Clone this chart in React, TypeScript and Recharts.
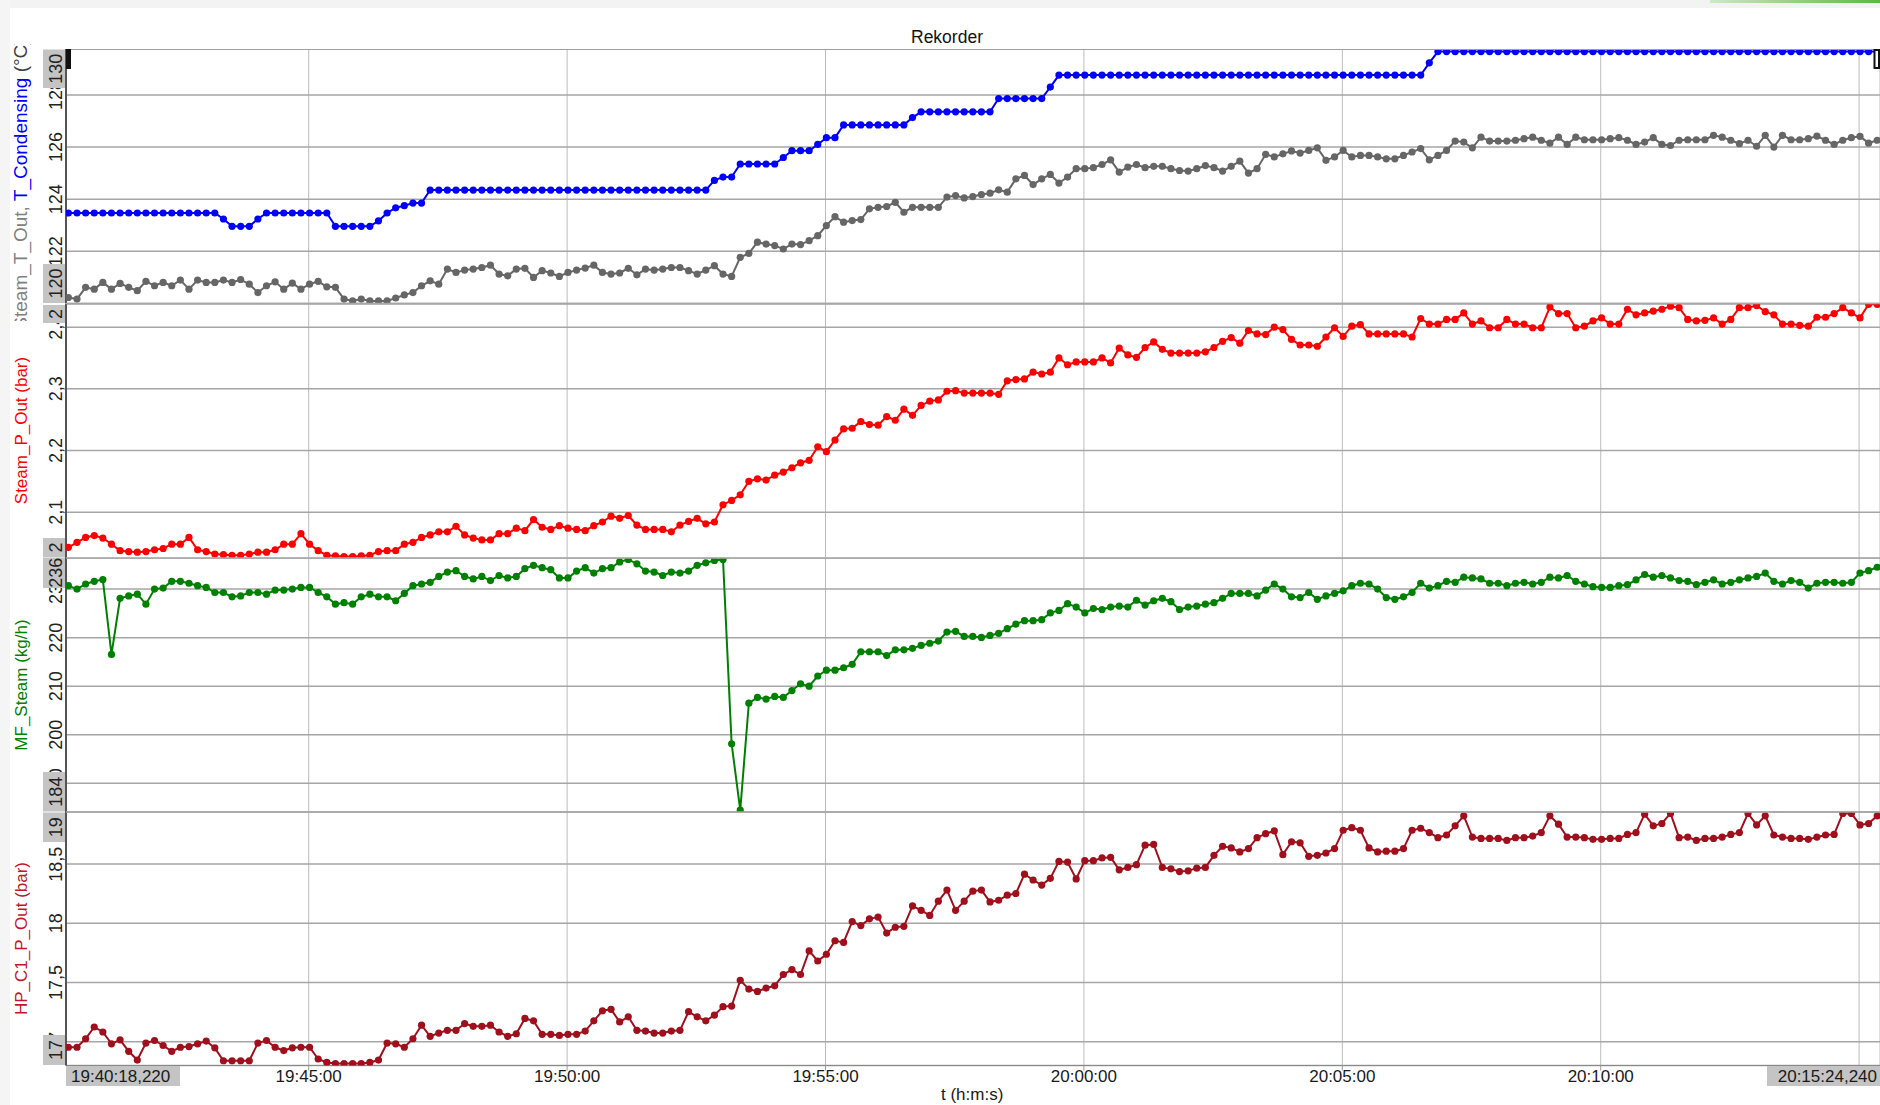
import React from 'react';
import { LineChart, Line, XAxis, YAxis, CartesianGrid } from 'recharts';

// recorder window: 19:40:18,220 .. 20:15:24,240, one sample every 10 s
const START = '19:40:18.220';
const END = '20:15:24.240';
const FIRST_SAMPLE = '19:40:21';
const SAMPLE_STEP_S = 10;
const TIME_TICKS = ['19:45:00', '19:50:00', '19:55:00', '20:00:00', '20:05:00', '20:10:00', '20:15:00'];

// T_Condensing (°C)
const T_CONDENSING = [
  123.47, 123.47, 123.47, 123.47, 123.47, 123.47, 123.47, 123.47, 123.47, 123.47,
  123.47, 123.47, 123.47, 123.47, 123.47, 123.47, 123.47, 123.47, 123.24, 122.96,
  122.96, 122.96, 123.24, 123.47, 123.47, 123.47, 123.47, 123.47, 123.47, 123.47,
  123.47, 122.96, 122.96, 122.96, 122.96, 122.96, 123.17, 123.47, 123.67, 123.75,
  123.85, 123.85, 124.35, 124.35, 124.35, 124.35, 124.35, 124.35, 124.35, 124.35,
  124.35, 124.35, 124.35, 124.35, 124.35, 124.35, 124.35, 124.35, 124.35, 124.35,
  124.35, 124.35, 124.35, 124.35, 124.35, 124.35, 124.35, 124.35, 124.35, 124.35,
  124.35, 124.35, 124.35, 124.35, 124.35, 124.72, 124.85, 124.85, 125.35, 125.35,
  125.35, 125.35, 125.35, 125.6, 125.86, 125.86, 125.86, 126.1, 126.36, 126.36,
  126.85, 126.85, 126.85, 126.85, 126.85, 126.85, 126.85, 126.85, 127.13, 127.35,
  127.35, 127.35, 127.35, 127.35, 127.35, 127.35, 127.35, 127.35, 127.86, 127.86,
  127.86, 127.86, 127.86, 127.86, 128.3, 128.76, 128.76, 128.76, 128.76, 128.76,
  128.76, 128.76, 128.76, 128.76, 128.76, 128.76, 128.76, 128.76, 128.76, 128.76,
  128.76, 128.76, 128.76, 128.76, 128.76, 128.76, 128.76, 128.76, 128.76, 128.76,
  128.76, 128.76, 128.76, 128.76, 128.76, 128.76, 128.76, 128.76, 128.76, 128.76,
  128.76, 128.76, 128.76, 128.76, 128.76, 128.76, 128.76, 128.76, 129.23, 129.66,
  129.66, 129.66, 129.66, 129.66, 129.66, 129.66, 129.66, 129.66, 129.66, 129.66,
  129.66, 129.66, 129.66, 129.66, 129.66, 129.66, 129.66, 129.66, 129.66, 129.66,
  129.66, 129.66, 129.66, 129.66, 129.66, 129.66, 129.66, 129.66, 129.66, 129.66,
  129.66, 129.66, 129.66, 129.66, 129.66, 129.66, 129.66, 129.66, 129.66, 129.66,
  129.66, 129.66, 129.66, 129.66, 129.66, 129.66, 129.66, 129.66, 129.66, 129.66,
  129.66,
];

// Steam_T_Out (°C)
const STEAM_T_OUT = [
  120.23, 120.17, 120.62, 120.55, 120.81, 120.55, 120.77, 120.62, 120.49, 120.85,
  120.68, 120.81, 120.68, 120.9, 120.55, 120.9, 120.81, 120.81, 120.9, 120.81,
  120.92, 120.74, 120.42, 120.68, 120.83, 120.55, 120.78, 120.55, 120.74, 120.85,
  120.64, 120.62, 120.17, 120.1, 120.17, 120.1, 120.1, 120.1, 120.21, 120.33,
  120.42, 120.68, 120.87, 120.74, 121.32, 121.19, 121.28, 121.32, 121.38, 121.47,
  121.13, 121.06, 121.32, 121.35, 121.0, 121.26, 121.17, 121.04, 121.19, 121.28,
  121.36, 121.47, 121.19, 121.13, 121.17, 121.35, 121.1, 121.32, 121.28, 121.32,
  121.38, 121.38, 121.26, 121.13, 121.28, 121.45, 121.13, 121.04, 121.77, 121.92,
  122.35, 122.28, 122.22, 122.09, 122.28, 122.26, 122.41, 122.6, 122.99, 123.33,
  123.12, 123.18, 123.22, 123.63, 123.69, 123.72, 123.88, 123.5, 123.69, 123.69,
  123.69, 123.69, 124.08, 124.14, 124.05, 124.1, 124.18, 124.23, 124.36, 124.27,
  124.78, 124.91, 124.56, 124.78, 124.95, 124.62, 124.85, 125.17, 125.17, 125.21,
  125.33, 125.51, 125.04, 125.23, 125.33, 125.21, 125.26, 125.26, 125.17, 125.1,
  125.08, 125.17, 125.29, 125.21, 125.08, 125.26, 125.46, 125.0, 125.17, 125.72,
  125.62, 125.74, 125.85, 125.77, 125.87, 125.97, 125.49, 125.62, 125.87, 125.62,
  125.68, 125.68, 125.62, 125.55, 125.55, 125.68, 125.81, 125.94, 125.51, 125.68,
  125.87, 126.23, 126.19, 125.97, 126.38, 126.23, 126.23, 126.23, 126.26, 126.32,
  126.38, 126.26, 126.15, 126.38, 126.1, 126.38, 126.28, 126.28, 126.28, 126.32,
  126.36, 126.26, 126.1, 126.19, 126.36, 126.1, 126.06, 126.26, 126.28, 126.28,
  126.28, 126.45, 126.38, 126.26, 126.13, 126.26, 126.03, 126.45, 126.0, 126.45,
  126.28, 126.28, 126.32, 126.42, 126.26, 126.1, 126.26, 126.36, 126.41, 126.15,
  126.26,
];

// Steam_P_Out (bar)
const STEAM_P_OUT = [
  2.043, 2.051, 2.059, 2.062, 2.058, 2.048, 2.0375, 2.036, 2.035, 2.036,
  2.039, 2.041, 2.048, 2.048, 2.059, 2.039, 2.036, 2.032, 2.031, 2.03,
  2.03, 2.032, 2.035, 2.035, 2.039, 2.048, 2.048, 2.065, 2.048, 2.0375,
  2.03, 2.029, 2.028, 2.028, 2.029, 2.03, 2.036, 2.0375, 2.0375, 2.048,
  2.051, 2.059, 2.063, 2.068, 2.068, 2.077, 2.063, 2.058, 2.055, 2.055,
  2.065, 2.065, 2.074, 2.07, 2.088, 2.0755, 2.072, 2.078, 2.074, 2.072,
  2.07, 2.078, 2.084, 2.0935, 2.09, 2.0945, 2.079, 2.072, 2.072, 2.072,
  2.068, 2.079, 2.085, 2.09, 2.081, 2.084, 2.112, 2.119, 2.128, 2.15,
  2.154, 2.152, 2.16, 2.165, 2.172, 2.18, 2.184, 2.206, 2.198, 2.217,
  2.235, 2.236, 2.247, 2.242, 2.241, 2.255, 2.249, 2.267, 2.257, 2.273,
  2.28, 2.282, 2.296, 2.297, 2.293, 2.293, 2.293, 2.293, 2.291, 2.313,
  2.315, 2.316, 2.327, 2.324, 2.327, 2.35, 2.339, 2.3435, 2.3435, 2.3435,
  2.35, 2.342, 2.366, 2.355, 2.351, 2.367, 2.376, 2.364, 2.358, 2.358,
  2.358, 2.358, 2.36, 2.367, 2.377, 2.383, 2.374, 2.3945, 2.389, 2.388,
  2.4, 2.396, 2.38, 2.371, 2.371, 2.369, 2.384, 2.399, 2.385, 2.4015,
  2.404, 2.389, 2.389, 2.389, 2.389, 2.389, 2.384, 2.414, 2.405, 2.405,
  2.4125, 2.4125, 2.423, 2.405, 2.41, 2.399, 2.399, 2.4125, 2.405, 2.405,
  2.399, 2.399, 2.4325, 2.422, 2.422, 2.399, 2.4015, 2.41, 2.415, 2.405,
  2.405, 2.429, 2.42, 2.423, 2.426, 2.429, 2.434, 2.4315, 2.4125, 2.41,
  2.411, 2.415, 2.405, 2.4125, 2.4315, 2.4315, 2.435, 2.425, 2.42, 2.405,
  2.405, 2.403, 2.4015, 2.416, 2.416, 2.422, 2.4315, 2.423, 2.415, 2.437,
  2.437,
];

// MF_Steam (kg/h)
const MF_STEAM = [
  230.7, 230.0, 231.05, 231.6, 231.95, 216.55, 228.1, 228.6, 228.95, 226.9,
  230.0, 230.2, 231.6, 231.6, 231.2, 230.7, 230.35, 229.3, 229.3, 228.4,
  228.6, 229.3, 229.3, 228.95, 229.8, 229.8, 230.0, 230.35, 230.35, 229.3,
  228.4, 226.9, 227.2, 226.9, 228.4, 228.95, 228.4, 228.4, 227.6, 229.1,
  230.7, 231.05, 231.4, 232.6, 233.5, 233.8, 232.6, 232.1, 232.6, 231.75,
  232.8, 232.3, 232.6, 234.2, 234.9, 234.4, 234.0, 232.3, 232.3, 233.7,
  234.4, 233.3, 234.2, 234.4, 235.6, 236.1, 235.2, 233.7, 233.5, 232.8,
  233.5, 233.3, 233.7, 234.9, 235.4, 235.9, 236.1, 198.15, 184.5, 206.5,
  207.7, 207.35, 207.9, 207.7, 209.1, 210.5, 210.0, 212.1, 213.3, 213.3,
  213.8, 214.5, 217.1, 217.1, 217.1, 216.3, 217.5, 217.5, 217.8, 218.4,
  218.85, 219.3, 221.15, 221.3, 220.25, 220.25, 220.05, 220.45, 220.9, 221.85,
  222.8, 223.5, 223.5, 223.7, 225.1, 225.6, 227.0, 226.3, 225.1, 226.0,
  225.8, 226.3, 226.5, 226.3, 227.7, 226.7, 227.6, 228.1, 227.4, 225.8,
  226.3, 226.5, 226.9, 227.2, 228.1, 229.1, 229.1, 229.1, 228.6, 229.8,
  231.05, 230.0, 228.4, 228.25, 229.3, 227.9, 228.6, 229.1, 229.65, 230.7,
  231.2, 231.05, 230.0, 228.25, 227.9, 228.4, 229.3, 231.2, 230.2, 230.7,
  231.6, 231.4, 232.45, 232.3, 232.1, 231.2, 231.2, 230.7, 231.2, 231.4,
  231.05, 231.4, 232.45, 232.3, 232.8, 231.6, 231.05, 230.5, 230.35, 230.35,
  230.7, 230.9, 231.9, 233.0, 232.45, 232.8, 232.3, 231.75, 231.6, 230.9,
  231.4, 231.9, 231.05, 231.4, 231.9, 232.3, 232.6, 233.3, 231.6, 231.05,
  231.75, 231.4, 230.2, 231.2, 231.4, 231.4, 231.2, 231.4, 233.3, 233.8,
  234.5,
];

// HP_C1_P_Out (bar)
const HP_C1_P_OUT = [
  16.954, 16.954, 17.026, 17.125, 17.083, 16.983, 17.017, 16.92, 16.846, 16.989,
  17.011, 16.969, 16.92, 16.954, 16.96, 16.983, 17.006, 16.949, 16.84, 16.84,
  16.84, 16.84, 16.989, 17.011, 16.954, 16.926, 16.949, 16.954, 16.954, 16.855,
  16.826, 16.817, 16.817, 16.817, 16.817, 16.826, 16.846, 16.989, 16.983, 16.954,
  17.026, 17.14, 17.046, 17.074, 17.097, 17.097, 17.154, 17.131, 17.131, 17.14,
  17.083, 17.046, 17.068, 17.197, 17.177, 17.063, 17.063, 17.054, 17.063, 17.063,
  17.091, 17.177, 17.262, 17.274, 17.168, 17.211, 17.097, 17.091, 17.074, 17.074,
  17.091, 17.097, 17.254, 17.211, 17.177, 17.225, 17.297, 17.302, 17.519, 17.445,
  17.425, 17.454, 17.473, 17.568, 17.61, 17.568, 17.767, 17.682, 17.739, 17.853,
  17.839, 18.015, 17.981, 18.038, 18.053, 17.918, 17.967, 17.975, 18.147, 18.11,
  18.067, 18.187, 18.281, 18.11, 18.187, 18.272, 18.281, 18.181, 18.195, 18.238,
  18.252, 18.415, 18.366, 18.323, 18.38, 18.523, 18.517, 18.375, 18.529, 18.529,
  18.552, 18.557, 18.452, 18.472, 18.495, 18.66, 18.666, 18.472, 18.46, 18.437,
  18.443, 18.466, 18.472, 18.574, 18.651, 18.637, 18.603, 18.631, 18.723, 18.757,
  18.78, 18.58, 18.689, 18.68, 18.566, 18.574, 18.594, 18.631, 18.786, 18.808,
  18.786, 18.637, 18.603, 18.609, 18.609, 18.631, 18.786, 18.803, 18.766, 18.723,
  18.746, 18.823, 18.908, 18.728, 18.717, 18.717, 18.717, 18.7, 18.723, 18.723,
  18.737, 18.766, 18.908, 18.837, 18.728, 18.728, 18.723, 18.709, 18.709, 18.717,
  18.717, 18.751, 18.766, 18.922, 18.823, 18.843, 18.928, 18.723, 18.728, 18.7,
  18.717, 18.717, 18.728, 18.751, 18.766, 18.928, 18.831, 18.908, 18.746, 18.728,
  18.717, 18.717, 18.709, 18.728, 18.746, 18.751, 18.928, 18.928, 18.831, 18.843,
  18.908,
];

const FONT = '"Liberation Sans", Arial, sans-serif';
const W = 1880;
const H = 1105;
const AXIS_W = 66;
const X_AXIS_H = 40;
const END_BOX_X = 1767;

const toSec = (s: string) => {
  const [h, m, sec] = s.split(':');
  return Number(h) * 3600 + Number(m) * 60 + parseFloat(sec);
};
const T0 = toSec(START);
const X_MAX = toSec(END) - T0;
const xTicks = TIME_TICKS.map((t) => toSec(t) - T0);
const firstOffset = toSec(FIRST_SAMPLE) - T0;

const rows = T_CONDENSING.map((_, i) => ({
  t: firstOffset + i * SAMPLE_STEP_S,
  tc: T_CONDENSING[i],
  ts: STEAM_T_OUT[i],
  sp: STEAM_P_OUT[i],
  mf: MF_STEAM[i],
  hp: HP_C1_P_OUT[i],
}));

const panels = [
  {
    top: 49, h: 254.5, domain: [120, 129.76], ticks: [120, 122, 124, 126, 128],
    series: [{ key: 'ts', color: '#666666' }, { key: 'tc', color: '#0000ff' }],
    maxBox: [49.5, 88], minBox: [264, 303],
  },
  {
    top: 303.5, h: 254.5, domain: [2.0248, 2.4375], ticks: [2.1, 2.2, 2.3, 2.4],
    series: [{ key: 'sp', color: '#ff0000' }],
    maxBox: [305, 323], minBox: [538, 557],
  },
  {
    top: 558, h: 254, domain: [184.1, 236.4], ticks: [190, 200, 210, 220, 230],
    series: [{ key: 'mf', color: '#008000' }],
    maxBox: [557.5, 588], minBox: [772, 811.5],
  },
  {
    top: 812, h: 253.5, domain: [16.8, 18.94], ticks: [17, 17.5, 18, 18.5],
    series: [{ key: 'hp', color: '#a0101c' }],
    maxBox: [812.5, 842], minBox: [1035, 1065],
  },
];

const fmt = (v: number) => String(v).replace('.', ',');
const pad = (n: number) => String(n).padStart(2, '0');
const clock = (sec: number) => {
  const s = Math.round(T0 + sec);
  return `${pad(Math.floor(s / 3600))}:${pad(Math.floor((s % 3600) / 60))}:${pad(s % 60)}`;
};

// tick labels sitting on the panel edge are covered by the grey min/max box
const makeYTick = (domain: number[]) => ({ y, payload }: any) => {
  if (payload.value <= domain[0] || payload.value >= domain[1]) return <g />;
  return (
    <text x={62} y={y} transform={`rotate(-90 62 ${y})`} textAnchor="middle"
      fontSize={18} fill="#222" fontFamily={FONT}>
      {fmt(payload.value)}
    </text>
  );
};

// the last tick label is hidden under the end-time box
const makeXTick = (plotH: number) => ({ x, payload }: any) => {
  if (x + 36 > END_BOX_X) return <g />;
  return (
    <text x={x} y={plotH + 16.5} textAnchor="middle" fontSize={17} fill="#1a1a1a" fontFamily={FONT}>
      {clock(payload.value)}
    </text>
  );
};

const VText = ({ x, y, children, size = 18, fill = '#222' }: any) => (
  <text x={x} y={y} transform={`rotate(-90 ${x} ${y})`} textAnchor="middle"
    fontSize={size} fill={fill} fontFamily={FONT}>
    {children}
  </text>
);

const titles = [
  { center: 430.5, text: 'Steam_P_Out (bar)', color: '#ff0000' },
  { center: 685, text: 'MF_Steam (kg/h)', color: '#008000' },
  { center: 938.5, text: 'HP_C1_P_Out (bar)', color: '#c0182a' },
];

export default function App() {
  return (
    <div style={{ position: 'absolute', left: 0, top: 0, width: W, height: H, background: '#fff', overflow: 'hidden', fontFamily: FONT }}>
      <div style={{ position: 'absolute', left: 0, top: 0, width: W, height: 8, background: '#f3f3f3' }} />
      <div style={{ position: 'absolute', left: 0, top: 0, width: 10, height: H, background: '#f5f5f5' }} />
      <div style={{ position: 'absolute', left: 1710, top: 0, width: 170, height: 3, background: 'linear-gradient(90deg, #cfe8c4, #5fb548)' }} />

      {panels.map((p, idx) => {
        const last = idx === panels.length - 1;
        return (
          <div key={idx} style={{ position: 'absolute', left: 0, top: p.top }}>
            <LineChart width={W} height={p.h + (last ? X_AXIS_H : 0)} data={rows}
              margin={{ top: 0, right: 0, bottom: 0, left: 0 }}>
              <CartesianGrid horizontal={false} stroke="#bcbcbc" strokeWidth={1} />
              <CartesianGrid vertical={false} stroke="#a6a6a6" strokeWidth={1.5} />
              <XAxis type="number" dataKey="t" domain={[0, X_MAX]} ticks={xTicks} allowDataOverflow
                hide={!last} height={X_AXIS_H} interval={0}
                axisLine={{ stroke: '#888', strokeWidth: 1 }} tickLine={{ stroke: '#999' }} tickSize={5}
                tick={makeXTick(p.h)} />
              <YAxis type="number" domain={p.domain} ticks={p.ticks} allowDataOverflow width={AXIS_W}
                interval={0} axisLine={{ stroke: '#555', strokeWidth: 2 }} tickLine={false}
                tick={makeYTick(p.domain)} />
              {p.series.map((s) => (
                <Line key={s.key} type="linear" dataKey={s.key} stroke={s.color} strokeWidth={2}
                  dot={{ r: 3.6, fill: s.color, stroke: s.color, strokeWidth: 0 }}
                  activeDot={false} isAnimationActive={false} />
              ))}
            </LineChart>
          </div>
        );
      })}

      <svg width={W} height={H} style={{ position: 'absolute', left: 0, top: 0, pointerEvents: 'none' }}>
        <defs>
          <clipPath id="t1clip"><rect x={0} y={44} width={40} height={277} /></clipPath>
        </defs>
        <text x={947} y={42.5} textAnchor="middle" fontSize={17.5} fill="#111" fontFamily={FONT}>Rekorder</text>

        <line x1={AXIS_W} x2={W} y1={49.5} y2={49.5} stroke="#a0a0a0" strokeWidth={1} />
        {panels.slice(1).map((p, i) => (
          <line key={i} x1={AXIS_W} x2={W} y1={p.top} y2={p.top} stroke="#a6a6a6" strokeWidth={1.5} />
        ))}

        {panels.map((p, i) => (
          <g key={i}>
            <rect x={43} y={p.maxBox[0]} width={22} height={p.maxBox[1] - p.maxBox[0]} fill="#c4c4c4" />
            <VText x={62} y={(p.maxBox[0] + p.maxBox[1]) / 2}>{String(Math.round(p.domain[1]))}</VText>
            <rect x={43} y={p.minBox[0]} width={22} height={p.minBox[1] - p.minBox[0]} fill="#c4c4c4" />
            <VText x={62} y={(p.minBox[0] + p.minBox[1]) / 2}>{String(Math.round(p.domain[0]))}</VText>
          </g>
        ))}

        <g clipPath="url(#t1clip)">
          <text x={27} y={184} transform="rotate(-90 27 184)" textAnchor="middle" fontSize={19} fontFamily={FONT}>
            <tspan fill="#808080">Steam_T_Out, </tspan>
            <tspan fill="#0000ff">T_Condensing</tspan>
            <tspan fill="#404040"> (°C)</tspan>
          </text>
        </g>
        {titles.map((t) => (
          <VText key={t.text} x={27} y={t.center} size={17} fill={t.color}>{t.text}</VText>
        ))}

        <rect x={66} y={1066} width={114} height={20} fill="#c4c4c4" />
        <text x={71} y={1082} fontSize={17} fill="#1a1a1a" fontFamily={FONT}>{START.replace('.', ',')}</text>
        <rect x={END_BOX_X} y={1066} width={W - END_BOX_X} height={20} fill="#c4c4c4" />
        <text x={1877} y={1082} textAnchor="end" fontSize={17} fill="#1a1a1a" fontFamily={FONT}>{END.replace('.', ',')}</text>
        <text x={941} y={1100} fontSize={17} fill="#1a1a1a" fontFamily={FONT}>t (h:m:s)</text>

        <rect x={66} y={49} width={5} height={20} fill="#111" />
        <rect x={1874.5} y={50} width={4.5} height={18} fill="#fff" stroke="#111" strokeWidth={2} />
      </svg>
    </div>
  );
}
